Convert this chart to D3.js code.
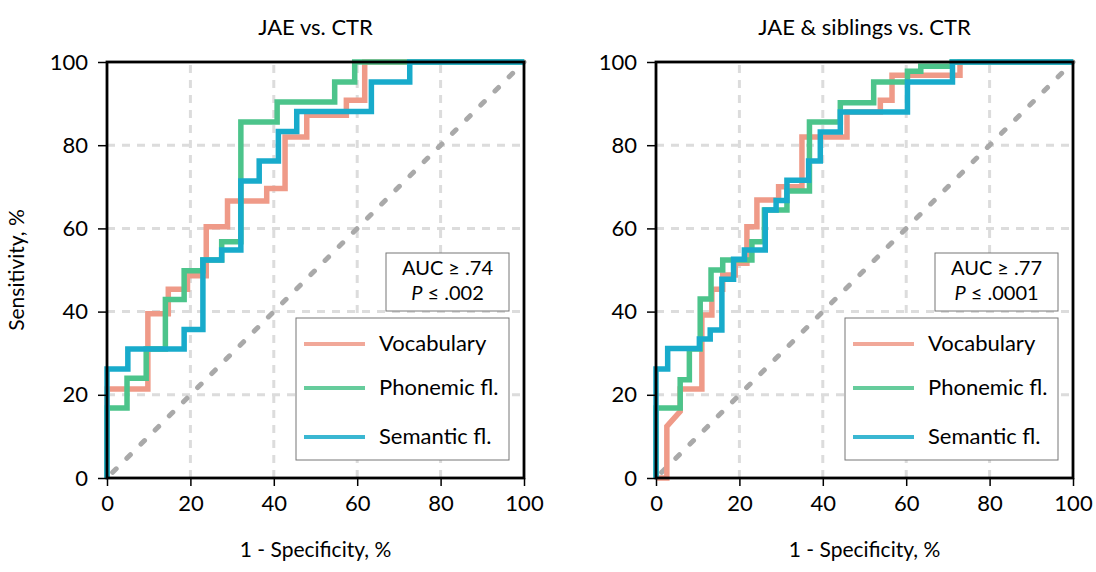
<!DOCTYPE html>
<html><head><meta charset="utf-8">
<script src="https://cdn.jsdelivr.net/npm/d3@7"></script>
<style>
html,body{margin:0;padding:0;background:#fff;}
svg{display:block;font-family:Lato,"Open Sans",sans-serif;}
</style></head>
<body>
<svg id="c" width="1096" height="572"></svg>
<script>
// ---- data (false positive rate %, true positive rate %) ----
const seriesNames = ["Vocabulary", "Phonemic fl.", "Semantic fl."];
const seriesColors = ["#ef9a88", "#4cc48b", "#18abcb"];
const tickValues = [0, 20, 40, 60, 80, 100];
const panelTitles = ["JAE vs. CTR", "JAE & siblings vs. CTR"];
const aucLabels = ["AUC \u2265 .74", "AUC \u2265 .77"];
const pLabels = ["\u2264 .002", "\u2264 .0001"];

const leftVocabFPR = [0, 0, 9.8, 9.8, 14.7, 14.7, 19.3, 19.3, 23.8, 23.8, 28.9, 28.9, 38.3, 38.3, 42.7, 42.7, 47.9, 47.9, 57.4, 57.4, 61.8, 61.8, 100];
const leftVocabTPR = [0, 21.4, 21.4, 39.5, 39.5, 45.4, 45.4, 48.6, 48.6, 60.4, 60.4, 66.6, 66.6, 69.6, 69.6, 82.0, 82.0, 87.2, 87.2, 90.8, 90.8, 100, 100];
const leftPhonFPR = [0, 0, 4.8, 4.8, 9.4, 9.4, 14.0, 14.0, 18.5, 18.5, 23.0, 23.0, 27.5, 27.5, 32.1, 32.1, 40.8, 40.8, 54.6, 54.6, 59.4, 59.4, 100];
const leftPhonTPR = [0, 16.8, 16.8, 24.0, 24.0, 31.0, 31.0, 42.9, 42.9, 49.8, 49.8, 52.4, 52.4, 56.8, 56.8, 85.6, 85.6, 90.4, 90.4, 95.2, 95.2, 100, 100];
const leftSemFPR = [0, 0, 5.0, 5.0, 18.5, 18.5, 23.0, 23.0, 27.5, 27.5, 32.1, 32.1, 36.5, 36.5, 41.1, 41.1, 45.5, 45.5, 63.4, 63.4, 72.6, 72.6, 100];
const leftSemTPR = [0, 26.2, 26.2, 31.0, 31.0, 35.7, 35.7, 52.4, 52.4, 54.8, 54.8, 71.4, 71.4, 76.2, 76.2, 83.3, 83.3, 88.1, 88.1, 95.2, 95.2, 100, 100];

const rightVocabFPR = [0, 2.6, 2.6, 5.8, 5.8, 11.0, 11.0, 13.4, 13.4, 16.0, 16.0, 19.0, 19.0, 21.8, 21.8, 24.2, 24.2, 29.4, 29.4, 35.0, 35.0, 45.8, 45.8, 53.8, 53.8, 56.6, 56.6, 72.9, 72.9, 100];
const rightVocabTPR = [0, 0, 12.4, 16.0, 21.4, 21.4, 39.2, 39.2, 45.4, 45.4, 48.8, 48.8, 51.6, 51.6, 60.4, 60.4, 66.8, 66.8, 70.0, 70.0, 82.0, 82.0, 88.0, 88.0, 90.8, 90.8, 96.8, 96.8, 100, 100];
const rightPhonFPR = [0, 0, 5.8, 5.8, 8.0, 8.0, 10.6, 10.6, 13.2, 13.2, 16.0, 16.0, 23.0, 23.0, 26.0, 26.0, 31.4, 31.4, 36.8, 36.8, 44.2, 44.2, 52.2, 52.2, 60.3, 60.3, 63.5, 63.5, 71.0, 71.0, 100];
const rightPhonTPR = [0, 16.8, 16.8, 23.6, 23.6, 31.0, 31.0, 43.0, 43.0, 50.0, 50.0, 52.4, 52.4, 56.8, 56.8, 64.4, 64.4, 69.0, 69.0, 85.6, 85.6, 90.2, 90.2, 95.2, 95.2, 97.8, 97.8, 99.0, 99.0, 100, 100];
const rightSemFPR = [0, 0, 2.8, 2.8, 10.4, 10.4, 13.0, 13.0, 15.8, 15.8, 18.6, 18.6, 21.2, 21.2, 26.2, 26.2, 28.8, 28.8, 31.4, 31.4, 36.6, 36.6, 39.4, 39.4, 44.2, 44.2, 60.3, 60.3, 71.1, 71.1, 100];
const rightSemTPR = [0, 26.2, 26.2, 31.1, 31.1, 33.4, 33.4, 35.6, 35.6, 47.8, 47.8, 52.6, 52.6, 54.8, 54.8, 64.4, 64.4, 66.7, 66.7, 71.6, 71.6, 76.2, 76.2, 83.2, 83.2, 88.0, 88.0, 95.2, 95.2, 100, 100];

const panels = [
  {fpr: [leftVocabFPR, leftPhonFPR, leftSemFPR], tpr: [leftVocabTPR, leftPhonTPR, leftSemTPR]},
  {fpr: [rightVocabFPR, rightPhonFPR, rightSemFPR], tpr: [rightVocabTPR, rightPhonTPR, rightSemTPR]}
];

// ---- layout ----
const svg = d3.select("#c");
const plotX0 = [107, 656];
const plotW = 417, plotTop = 62, plotBottom = 478;
const fontSize = 21;

panels.forEach((p, i) => {
  const x = d3.scaleLinear().domain([0, 100]).range([plotX0[i], plotX0[i] + plotW]);
  const y = d3.scaleLinear().domain([0, 100]).range([plotBottom, plotTop]);
  const g = svg.append("g");

  // grid
  const gridVals = tickValues.filter(v => v > 0 && v < 100);
  g.selectAll(".gx").data(gridVals).enter().append("line")
    .attr("x1", d => x(d)).attr("x2", d => x(d)).attr("y1", y(0)).attr("y2", y(100))
    .attr("stroke", "#dcdcdc").attr("stroke-width", 3).attr("stroke-dasharray", "8,7");
  g.selectAll(".gy").data(gridVals).enter().append("line")
    .attr("y1", d => y(d)).attr("y2", d => y(d)).attr("x1", x(0)).attr("x2", x(100))
    .attr("stroke", "#dcdcdc").attr("stroke-width", 3).attr("stroke-dasharray", "8,7");

  // chance diagonal
  g.append("line").attr("x1", x(0)).attr("y1", y(0)).attr("x2", x(100)).attr("y2", y(100))
    .attr("stroke", "#a9a9a9").attr("stroke-width", 5).attr("stroke-linecap", "round")
    .attr("stroke-dasharray", "5,15").attr("stroke-dashoffset", -8);

  // curves
  const line = d3.line().x(d => x(d[0])).y(d => y(d[1]));
  p.fpr.forEach((fx, k) => {
    const pts = fx.map((v, j) => [v, p.tpr[k][j]]);
    g.append("path").datum(pts).attr("d", line)
      .attr("fill", "none").attr("stroke", seriesColors[k]).attr("stroke-width", 5.5)
      .attr("stroke-linejoin", "miter");
  });

  // frame
  g.append("rect").attr("x", x(0)).attr("y", y(100)).attr("width", x(100) - x(0)).attr("height", y(0) - y(100))
    .attr("fill", "none").attr("stroke", "#000").attr("stroke-width", 2.8);

  // axes
  const ax = g.append("g").attr("transform", `translate(0,${y(0)})`)
    .call(d3.axisBottom(x).tickValues(tickValues).tickSize(8).tickPadding(9));
  const ay = g.append("g").attr("transform", `translate(${x(0)},0)`)
    .call(d3.axisLeft(y).tickValues(tickValues).tickSize(9).tickPadding(10));
  [ax, ay].forEach(a => {
    a.select(".domain").remove();
    a.selectAll("line").attr("stroke", "#000").attr("stroke-width", 1.5);
    a.selectAll("text").attr("font-size", 22).attr("fill", "#000").attr("font-family", "Lato, sans-serif");
  });

  // title
  g.append("text").attr("x", (x(0) + x(100)) / 2).attr("y", 35).attr("text-anchor", "middle")
    .attr("font-size", 22).text(panelTitles[i]);
  // x label
  g.append("text").attr("x", (x(0) + x(100)) / 2).attr("y", 557).attr("text-anchor", "middle")
    .attr("font-size", fontSize).text("1 - Specificity, %");

  // AUC box
  const ab = {y: 253, w: 123, h: 58};
  ab.x = x(100) - 15 - ab.w;
  g.append("rect").attr("x", ab.x).attr("y", ab.y).attr("width", ab.w).attr("height", ab.h)
    .attr("fill", "#fff").attr("stroke", "#777").attr("stroke-width", 1);
  g.append("text").attr("x", ab.x + ab.w / 2).attr("y", ab.y + 22).attr("text-anchor", "middle")
    .attr("font-size", 20).text(aucLabels[i]);
  const pt = g.append("text").attr("x", ab.x + ab.w / 2).attr("y", ab.y + 47).attr("text-anchor", "middle")
    .attr("font-size", 20);
  pt.append("tspan").attr("font-style", "italic").text("P");
  pt.append("tspan").text(" " + pLabels[i]);

  // legend
  const lb = {x: x(100) - 228, y: 318, w: 213, h: 142};
  g.append("rect").attr("x", lb.x).attr("y", lb.y).attr("width", lb.w).attr("height", lb.h)
    .attr("fill", "#fff").attr("stroke", "#777").attr("stroke-width", 1);
  const lineYs = [26, 70, 119];
  seriesNames.forEach((nm, k) => {
    g.append("line").attr("x1", lb.x + 8).attr("x2", lb.x + 69)
      .attr("y1", lb.y + lineYs[k]).attr("y2", lb.y + lineYs[k])
      .attr("stroke", seriesColors[k]).attr("stroke-width", 4).attr("opacity", 0.85);
    g.append("text").attr("x", lb.x + 83).attr("y", lb.y + lineYs[k] + 7)
      .attr("font-size", 22).text(nm);
  });
});

// y label
svg.append("text").attr("transform", "translate(24,270) rotate(-90)").attr("text-anchor", "middle")
  .attr("font-size", fontSize).text("Sensitivity, %");
</script>
</body></html>
